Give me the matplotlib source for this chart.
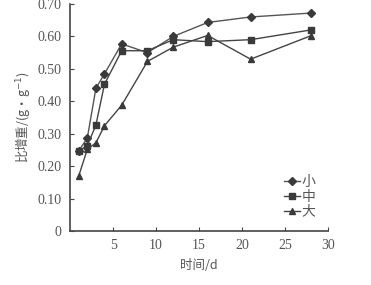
import matplotlib
matplotlib.use("Agg")
import matplotlib.pyplot as plt

# days after treatment
days = [1, 2, 3, 4, 6, 9, 12, 16, 21, 28]

# relative weight gain (g/g) by size class
small = [0.247, 0.287, 0.44, 0.485, 0.577, 0.55, 0.60, 0.643, 0.66, 0.672]
medium = [0.247, 0.263, 0.327, 0.453, 0.556, 0.556, 0.59, 0.584, 0.59, 0.62]
large = [0.17, 0.252, 0.272, 0.325, 0.388, 0.523, 0.567, 0.603, 0.53, 0.602]

series_labels = ["小", "中", "大"]

plt.rcParams["font.family"] = ["Liberation Serif", "Noto Sans CJK SC"]

fig = plt.figure(figsize=(3.71, 2.85), dpi=100)
ax = fig.add_axes([0.189, 0.189, 0.695, 0.797])

ink = "#3a3a3a"
ax.plot(days, small, color="#555555", lw=1.0, marker="D", ms=4, mfc=ink, mec=ink,
        label=series_labels[0])
ax.plot(days, medium, color="#444444", lw=1.0, marker="s", ms=4.5, mfc=ink, mec=ink,
        label=series_labels[1])
ax.plot(days, large, color="#444444", lw=1.0, marker="^", ms=4.5, mfc=ink, mec=ink,
        label=series_labels[2])

ax.set_xlim(0, 30)
ax.set_ylim(0, 0.70)
ax.set_xticks([5, 10, 15, 20, 25, 30])
ax.set_yticks([0, 0.1, 0.2, 0.3, 0.4, 0.5, 0.6, 0.7])
ax.set_yticklabels(["0", "0.10", "0.20", "0.30", "0.40", "0.50", "0.60", "0.70"])

for s in ["top", "right"]:
    ax.spines[s].set_visible(False)
for s in ["left", "bottom"]:
    ax.spines[s].set_color("#444444")
    ax.spines[s].set_linewidth(1.2)

ax.tick_params(direction="in", length=3, width=0.8, colors="#444444",
               labelsize=10, labelcolor="#555555", pad=6)

ax.set_xlabel("时间/d", fontsize=9, color="#555555", labelpad=5,
              family=["Noto Sans CJK SC", "DejaVu Sans"])
ax.set_ylabel("比增重/(g·g$^{-1}$)", fontsize=9, color="#555555", labelpad=4,
              family=["Noto Sans CJK SC", "DejaVu Sans"])

leg = ax.legend(loc="lower right", bbox_to_anchor=(1.0, 0.0), frameon=False,
                handlelength=1.2, handletextpad=0.1, labelspacing=0.05,
                prop={"family": ["Noto Sans CJK SC"], "size": 10})
for t in leg.get_texts():
    t.set_color("#555555")

fig.savefig("out.png", dpi=100)
